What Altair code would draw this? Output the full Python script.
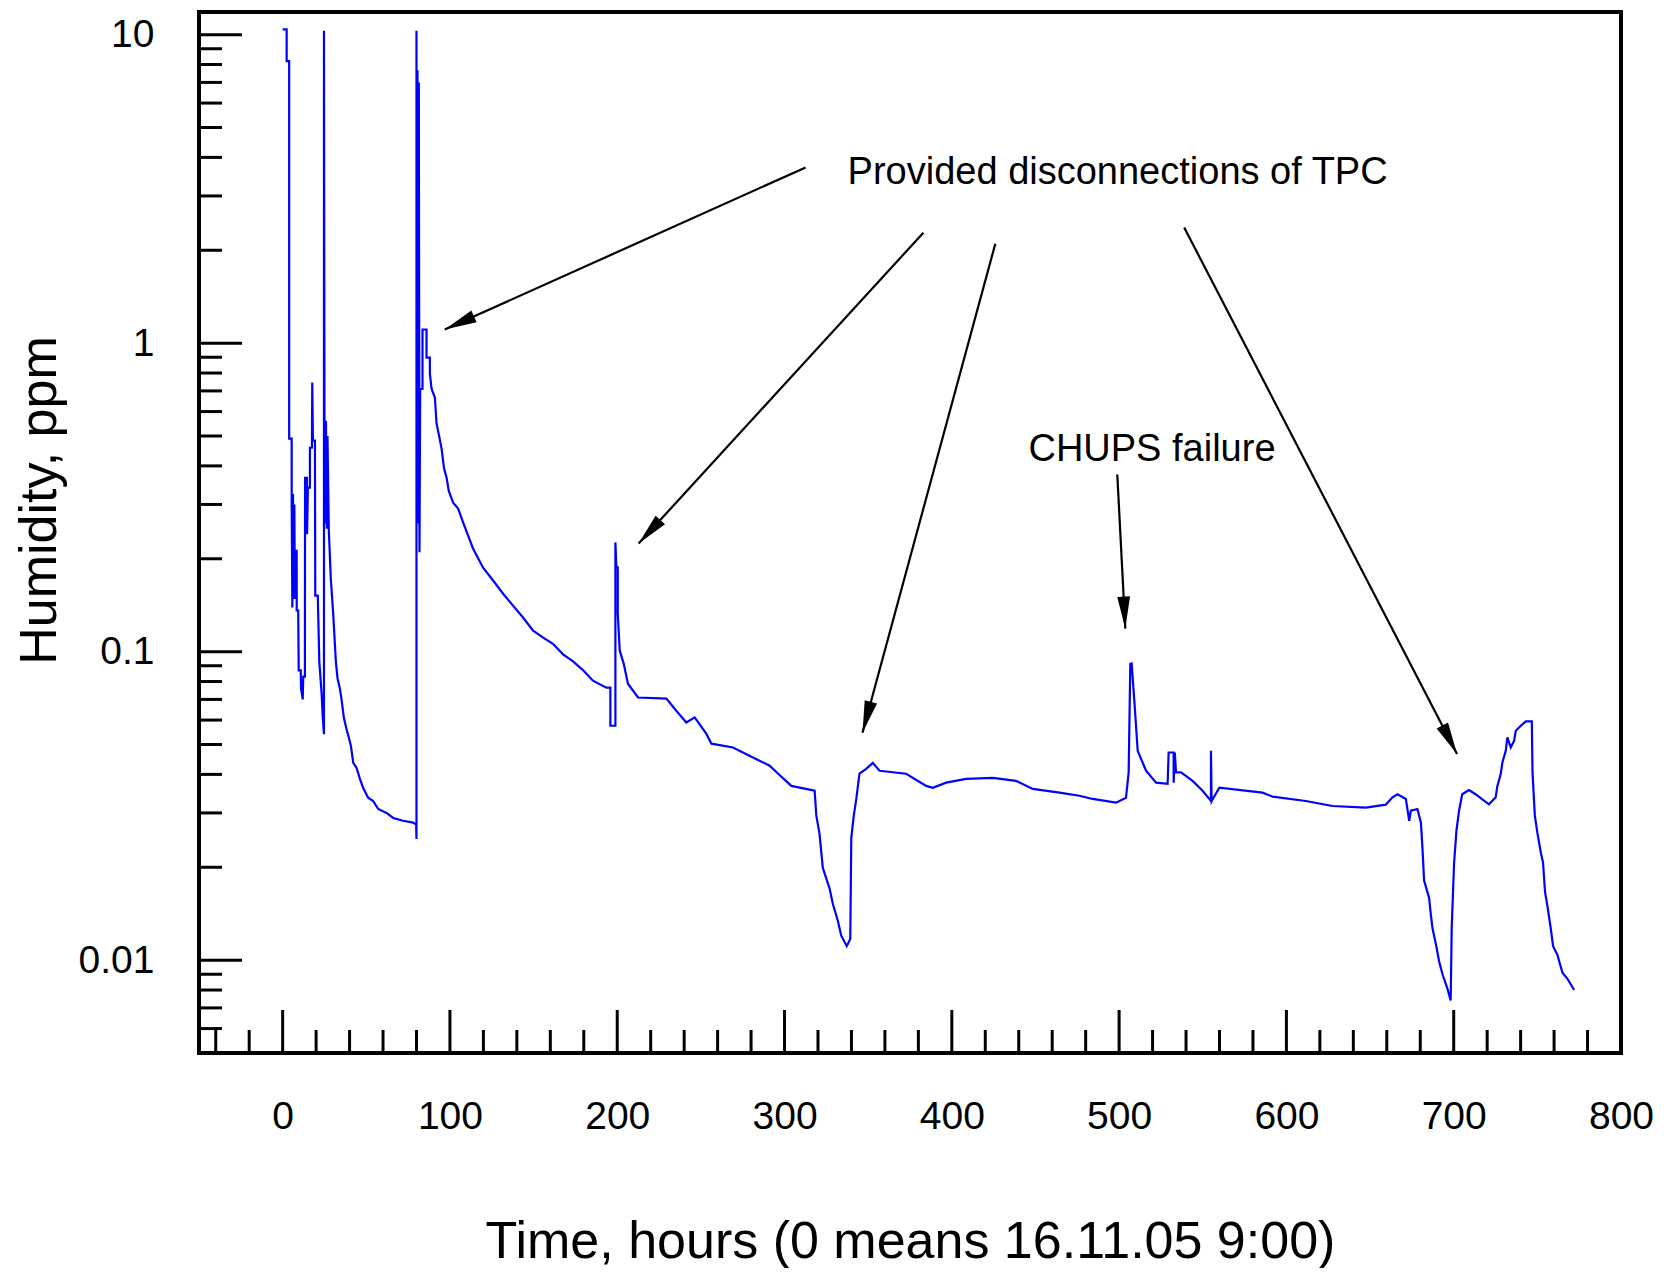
import math
import altair as alt
import pandas as pd

# ---------------- data ----------------
hours = [
    0, 2.4, 2.4, 3.9, 3.9, 5.4, 5.4, 5.8, 6.2, 6.6, 7.0, 7.3, 7.8, 8.4, 8.4, 9.3, 9.6, 10.8, 11.0, 12.0,
    12.3, 13.3, 13.4, 14.5, 14.6, 15.1, 16.3, 16.3, 17.5, 17.7, 18.1, 19.3, 19.5, 21.0, 21.9, 23.3, 24.0, 24.7, 24.7, 25.0,
    25.4, 25.9, 26.4, 26.8, 27.6, 28.8, 30.2, 31.8, 32.8, 34.2, 35.2, 36.6, 38.2, 39.6, 40.8, 42.2, 44.2, 46.2, 48.1, 51.1,
    54.1, 57.1, 62.1, 66.1, 72.0, 78.0, 79.8, 80.0, 80.0, 80.3, 80.6, 81.0, 81.4, 81.8, 82.2, 83.6, 83.6, 86.0, 86.0, 88.0,
    88.0, 89.0, 91.0, 92.0, 93.5, 95.0, 96.5, 98.0, 99.3, 101.9, 104.9, 107.9, 113.8, 119.8, 125.8, 131.8, 137.7, 143.7, 149.7, 155.7,
    161.6, 167.6, 173.6, 179.6, 185.5, 193.5, 195.9, 195.9, 198.9, 198.9, 199.5, 200.3, 200.3, 201.5, 203.9, 206.4, 212.4, 229.4, 235.3, 241.3,
    246.3, 253.3, 256.3, 269.2, 281.1, 291.1, 296.2, 304.1, 318.0, 319.0, 320.9, 322.9, 326.9, 328.9, 331.9, 333.9, 337.2, 339.3, 339.9, 341.4,
    342.9, 344.8, 348.8, 352.8, 356.8, 372.7, 384.7, 388.6, 396.6, 408.6, 424.5, 438.4, 448.4, 464.3, 476.2, 484.2, 498.2, 504.1, 505.7, 506.7,
    507.5, 509.1, 510.1, 511.1, 516.1, 522.1, 529.0, 529.6, 532.6, 532.6, 533.3, 534.0, 537.0, 543.9, 549.9, 554.9, 554.9, 555.3, 559.9, 585.7,
    591.7, 611.6, 627.5, 647.5, 659.4, 663.4, 666.4, 671.4, 673.4, 674.4, 678.3, 680.4, 681.3, 682.3, 685.3, 686.3, 687.3, 689.3, 691.3, 693.3,
    696.2, 698.2, 698.8, 700.2, 701.6, 703.2, 705.1, 709.1, 713.1, 717.1, 721.1, 725.1, 726.1, 728.1, 729.1, 731.1, 732.1, 734.1, 736.1, 737.1,
    740.1, 743.1, 746.7, 747.1, 748.5, 750.0, 752.1, 753.4, 754.6, 756.0, 758.0, 759.4, 762.0, 765.0, 768.0, 772.0,
]
humidity = [
    10.4, 10.4, 8.2, 8.2, 0.49, 0.49, 0.304, 0.139, 0.325, 0.148, 0.30, 0.148, 0.212, 0.212, 0.136, 0.136, 0.087, 0.087, 0.076, 0.070,
    0.083, 0.083, 0.366, 0.366, 0.24, 0.34, 0.34, 0.458, 0.458, 0.745, 0.483, 0.483, 0.152, 0.152, 0.093, 0.073, 0.061, 0.054, 10.3, 0.56,
    0.26, 0.56, 0.25, 0.5, 0.247, 0.172, 0.133, 0.093, 0.082, 0.076, 0.070, 0.061, 0.056, 0.0526, 0.0495, 0.0436, 0.042, 0.0387, 0.0362, 0.0336,
    0.0328, 0.0309, 0.030, 0.0289, 0.0283, 0.0279, 0.0275, 0.0247, 10.3, 0.30, 7.66, 0.26, 7.0, 0.21, 0.71, 0.71, 1.107, 1.107, 0.898, 0.898,
    0.797, 0.712, 0.666, 0.548, 0.501, 0.455, 0.392, 0.366, 0.332, 0.304, 0.291, 0.262, 0.216, 0.187, 0.170, 0.154, 0.141, 0.129, 0.117, 0.111,
    0.106, 0.098, 0.093, 0.087, 0.0805, 0.0764, 0.0764, 0.0575, 0.0575, 0.226, 0.1875, 0.1875, 0.133, 0.1007, 0.0913, 0.0787, 0.071, 0.0704, 0.0643, 0.0589,
    0.0612, 0.0541, 0.0503, 0.0489, 0.0454, 0.0427, 0.0402, 0.0367, 0.0354, 0.0294, 0.0257, 0.0199, 0.0171, 0.0152, 0.0134, 0.0120, 0.0111, 0.0117, 0.0249, 0.0294,
    0.0333, 0.0402, 0.0417, 0.0436, 0.0411, 0.0402, 0.0367, 0.0362, 0.0376, 0.0387, 0.0390, 0.0381, 0.0359, 0.0349, 0.0341, 0.0333, 0.0324, 0.0336, 0.0406, 0.0913,
    0.0916, 0.0693, 0.0575, 0.0477, 0.0411, 0.0376, 0.0373, 0.0471, 0.0471, 0.0376, 0.0471, 0.0406, 0.0406, 0.0381, 0.0354, 0.0328, 0.0477, 0.0328, 0.0362, 0.0349,
    0.0339, 0.0328, 0.0316, 0.0312, 0.0319, 0.0337, 0.0345, 0.0333, 0.0283, 0.0305, 0.0309, 0.0279, 0.0232, 0.0181, 0.0159, 0.0141, 0.0127, 0.0113, 0.0099, 0.0090,
    0.0081, 0.0074, 0.0127, 0.0205, 0.0262, 0.0305, 0.0345, 0.0356, 0.0345, 0.0332, 0.0320, 0.0337, 0.0367, 0.0401, 0.0437, 0.0477, 0.0527, 0.0489, 0.0514, 0.0554,
    0.0575, 0.0594, 0.0594, 0.0406, 0.0294, 0.0259, 0.0223, 0.0207, 0.0166, 0.0150, 0.0127, 0.0111, 0.0104, 0.0091, 0.0087, 0.0080,
]

# annotation arrows: start (x0, y0) -> tip (x1, y1), in data units
arrow_x0 = [312.6, 383.0, 426.0, 538.9, 498.9]
arrow_y0 = [3.71, 2.28, 2.10, 2.37, 0.375]
arrow_x1 = [96.9, 212.8, 346.6, 702.0, 503.7]
arrow_y1 = [1.107, 0.224, 0.0546, 0.0466, 0.1187]

note_text = ["Provided disconnections of TPC", "CHUPS failure"]
note_x = [337.7, 445.8]
note_y = [3.28, 0.4145]

x_label_values = [0, 100, 200, 300, 400, 500, 600, 700, 800]
x_major_ticks = [0, 100, 200, 300, 400, 500, 600, 700]
x_minor_ticks = [v for v in range(-40, 800, 20) if v % 100 != 0]
y_label_values = [0.01, 0.1, 1, 10]
y_minor_ticks = [0.006, 0.007, 0.008, 0.009,
                 0.02, 0.03, 0.04, 0.05, 0.06, 0.07, 0.08, 0.09,
                 0.2, 0.3, 0.4, 0.5, 0.6, 0.7, 0.8, 0.9,
                 2, 3, 4, 5, 6, 7, 8, 9]

X_DOMAIN = [-50, 800]
Y_DOMAIN = [0.005, 11.84]

# ---------------- layout ----------------
W, H = 1422, 1041
FONT = "Liberation Sans"
MAJOR_LEN, MINOR_LEN = 43, 23

xs = alt.Scale(domain=X_DOMAIN, nice=False, zero=False)
ys = alt.Scale(type="log", domain=Y_DOMAIN, nice=False)

x_axis = alt.Axis(values=x_label_values, format="d", ticks=False, tickSize=0, domain=False, grid=False,
                  labelFont=FONT, labelFontSize=39, labelColor="black", labelPadding=44,
                  labelFlush=False, labelOverlap=False,
                  title="Time, hours (0 means 16.11.05 9:00)", titleFont=FONT, titleFontSize=52,
                  titleFontWeight="normal", titleColor="black", titleX=W / 2, titleY=204,
                  titleBaseline="alphabetic", titleAlign="center")
y_axis = alt.Axis(values=y_label_values, format="~g", ticks=False, tickSize=0, domain=False, grid=False,
                  labelFont=FONT, labelFontSize=39, labelColor="black", labelPadding=45,
                  labelFlush=False, labelOverlap=False,
                  title="Humidity, ppm", titleFont=FONT, titleFontSize=52, titleFontWeight="normal",
                  titleColor="black", titleAngle=270, titleX=-144, titleY=488,
                  titleBaseline="alphabetic", titleAlign="center")

df = pd.DataFrame({"hours": hours, "humidity": humidity, "i": range(len(hours))})

line = alt.Chart(df).mark_line(color="#0000ff", strokeWidth=2.2).encode(
    x=alt.X("hours:Q", scale=xs, axis=x_axis),
    y=alt.Y("humidity:Q", scale=ys, axis=y_axis),
    order="i:Q",
)

def xticks(vals, length):
    return alt.Chart(pd.DataFrame({"t": vals})).mark_rule(color="black", strokeWidth=3).encode(
        x=alt.X("t:Q", scale=xs, axis=x_axis), y=alt.value(H), y2=alt.value(H - length))

def yticks(vals, length):
    return alt.Chart(pd.DataFrame({"t": vals})).mark_rule(color="black", strokeWidth=3).encode(
        y=alt.Y("t:Q", scale=ys, axis=y_axis), x=alt.value(0), x2=alt.value(length))

# arrows
def to_px(x, y):
    px = (x - X_DOMAIN[0]) / (X_DOMAIN[1] - X_DOMAIN[0]) * W
    ly0, ly1 = math.log10(Y_DOMAIN[0]), math.log10(Y_DOMAIN[1])
    py = (ly1 - math.log10(y)) / (ly1 - ly0) * H
    return px, py

angles = []
for a, b, c, d in zip(arrow_x0, arrow_y0, arrow_x1, arrow_y1):
    p0 = to_px(a, b)
    p1 = to_px(c, d)
    dx, dy = p1[0] - p0[0], p1[1] - p0[1]
    angles.append(math.degrees(math.atan2(dx, -dy)) % 360)

adf = pd.DataFrame({"x0": arrow_x0, "y0": arrow_y0, "x1": arrow_x1, "y1": arrow_y1, "ang": angles})

arrow_lines = alt.Chart(adf).mark_rule(color="black", strokeWidth=2.2).encode(
    x=alt.X("x0:Q", scale=xs, axis=x_axis), y=alt.Y("y0:Q", scale=ys, axis=y_axis),
    x2="x1:Q", y2="y1:Q")

arrow_heads = alt.Chart(adf).mark_point(
    shape="M0,0L-0.2,1L0.2,1Z", filled=True, color="black", opacity=1, size=4096, strokeWidth=0
).encode(
    x=alt.X("x1:Q", scale=xs, axis=x_axis), y=alt.Y("y1:Q", scale=ys, axis=y_axis),
    angle=alt.Angle("ang:Q", scale=None))

notes = alt.Chart(pd.DataFrame({"t": note_text, "x": note_x, "y": note_y})).mark_text(
    align="left", baseline="alphabetic", font=FONT, fontSize=38, color="black"
).encode(x=alt.X("x:Q", scale=xs, axis=x_axis), y=alt.Y("y:Q", scale=ys, axis=y_axis), text="t:N")

chart = alt.layer(
    line,
    xticks(x_major_ticks, MAJOR_LEN), xticks(x_minor_ticks, MINOR_LEN),
    yticks(y_label_values, MAJOR_LEN), yticks(y_minor_ticks, MINOR_LEN),
    arrow_lines, arrow_heads, notes,
).properties(
    width=W, height=H,
    autosize=alt.AutoSizeParams(type="none"),
    padding={"left": 191, "top": 4, "right": 40, "bottom": 215},
    background="white",
).configure_view(stroke="black", strokeWidth=4)

chart.save("out.html", embed_options={"renderer": "svg", "actions": False})
